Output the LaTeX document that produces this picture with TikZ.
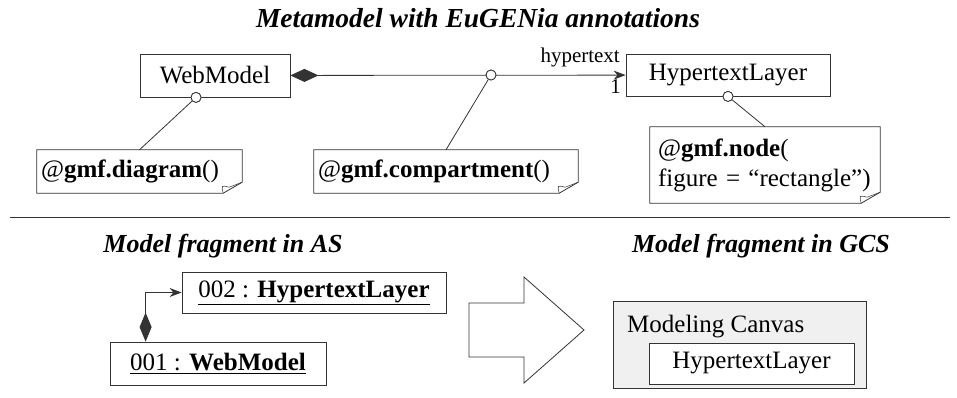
\documentclass[tikz,border=0pt]{standalone}
\usepackage{fontspec}
\setmainfont{Liberation Serif}
\usetikzlibrary{arrows.meta, positioning, calc}

\tikzset{
  link/.style={draw=black!80, line width=0.8pt},
  cls/.style={draw=black!80, line width=0.8pt, fill=white, inner sep=0pt,
    font=\fontsize{25}{30}\selectfont},
  note/.style={inner sep=0pt, inner xsep=4pt, align=left,
    font=\fontsize{25}{30}\selectfont},
  hole/.style={circle, draw=black!80, fill=white, line width=0.8pt,
    minimum size=10pt, inner sep=0pt},
  heading/.style={font=\bfseries\itshape\fontsize{26}{30}\selectfont},
  lbl/.style={font=\fontsize{21}{24}\selectfont, inner sep=0pt},
}

% outline of a note with its folded corner
\newcommand{\noteoutline}[1]{%
  \draw[link] (#1.north west) -- (#1.north east) -- ([yshift=11pt]#1.south east)
    -- ([xshift=-19pt]#1.south east) -- (#1.south west) -- cycle;
  \draw[link, line width=0.5pt] ([yshift=11pt]#1.south east)
    -- ([xshift=-13pt,yshift=6pt]#1.south east)
    .. controls ([xshift=-21pt,yshift=8pt]#1.south east) .. ([xshift=-19pt]#1.south east);}

\begin{document}
\begin{tikzpicture}[x=1pt, y=-1pt]
\useasboundingbox (0,0) rectangle (957,397);

% metamodel
\node[heading, font=\bfseries\itshape\fontsize{27.5}{32}\selectfont] (ttop) at (478,18)
  {Metamodel with EuGENia annotations};

\node[cls, minimum width=150pt, minimum height=43pt] (wm) at (215,75.5) {WebModel};
\node[cls, minimum width=204pt, minimum height=42pt] (hl) at (728,75) {HypertextLayer};

\draw[link, {Diamond[length=28pt,width=13pt]}-{Stealth[length=12pt,width=9pt]}] (wm) -- (hl);
\node[lbl, anchor=base east] (role) at (620,62) {hypertext};
\node[lbl, anchor=base east] (mult) at (621,93) {1};

\node[note, text width=197pt, minimum height=43pt] (n1) at (139.5,171.5)
  {@\textbf{gmf.diagram}()};
\node[note, text width=256pt, minimum height=43pt] (n2) at (446,171.5)
  {@\textbf{gmf.compartment}()};
\node[note, inner xsep=8pt, text width=214pt, minimum height=76pt] (n3) at (765,165)
  {@\textbf{gmf.node}(\\figure = “rectangle”)};
\noteoutline{n1}
\noteoutline{n2}
\noteoutline{n3}

\node[hole] (c1) at ([xshift=-19pt]wm.south) {};
\node[hole] (c2) at (491,75) {};
\node[hole] (c3) at (hl.south) {};
\draw[link] (c1) -- (n1.north);
\draw[link] (c2) -- (n2.north);
\draw[link] (c3) -- (n3.north);
\node[hole] at (c1) {};
\node[hole] at (c2) {};
\node[hole] at (c3) {};

\draw[link] (10,217) -- (950,217);

% model fragment in AS
\node[heading] (tas) at (223,246) {Model fragment in AS};
\node[cls, minimum width=264pt, minimum height=41pt] (i2) at (314,292.5)
  {\underline{002 : \textbf{HypertextLayer}}};
\node[cls, minimum width=216pt, minimum height=43pt] (i1) at (218,363.5)
  {\underline{001 : \textbf{WebModel}}};
\draw[link, {Diamond[length=29pt,width=12pt]}-{Stealth[length=12pt,width=9pt]}]
  ($(i1.north west)+(36,0)$) |- (i2.west);

% transformation
\draw[link] (469,303) -- (524,303) -- (524,277) -- (584,330) -- (524,383)
  -- (524,357) -- (469,357) -- cycle;

% model fragment in GCS
\node[heading] (tgcs) at (761,246) {Model fragment in GCS};
\node[cls, fill=black!6, minimum width=253pt, minimum height=87pt] (canvas) at (739.5,345) {};
\node[anchor=base west, inner sep=0pt, font=\fontsize{25}{30}\selectfont] (cname) at (627,332) {Modeling Canvas};
\node[cls, minimum width=205pt, minimum height=41pt] (hl2) at (751.5,363.5) {HypertextLayer};

\end{tikzpicture}
\end{document}
